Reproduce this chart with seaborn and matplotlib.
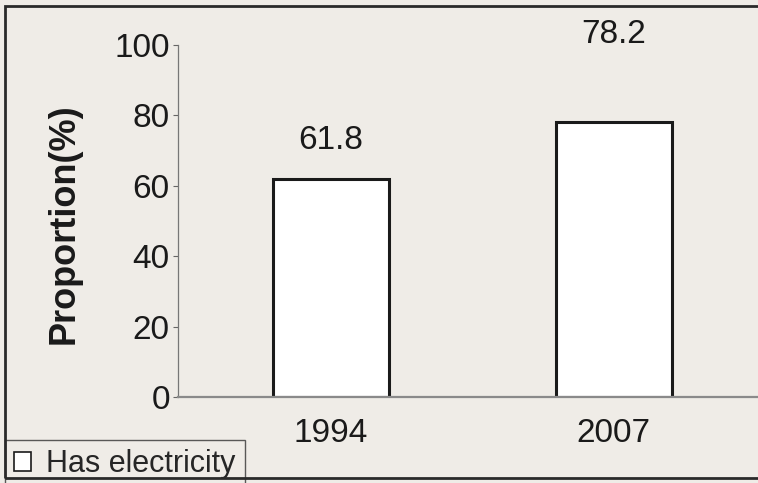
import matplotlib
matplotlib.use("Agg")
import matplotlib.pyplot as plt
import seaborn as sns
import pandas as pd
from matplotlib.patches import Rectangle

years = ["1994", "2007"]
has_electricity = [61.8, 78.2]
y_ticks = [0, 20, 40, 60, 80, 100]
legend_label = "Has electricity"

paper = "#efece7"
ink = "#1a1a1a"
sns.set_theme(style="white")
plt.rcParams["font.family"] = ["Liberation Sans", "DejaVu Sans"]

df = pd.DataFrame({"Year": years, "Proportion": has_electricity})

fig = plt.figure(figsize=(7.58, 4.83), dpi=100, facecolor=paper)
ax = fig.add_axes([0.235, 0.178, 0.765, 0.729])
ax.set_facecolor(paper)

sns.barplot(data=df, x="Year", y="Proportion", ax=ax, width=0.41,
            color="white", edgecolor=ink, linewidth=2.2,
            label=legend_label)

# value labels above each bar (offsets in pixels)
label_offsets = [30, 79]
for patch, val, off in zip(ax.patches, has_electricity, label_offsets):
    ax.annotate(f"{val}", (patch.get_x() + patch.get_width() / 2, val),
                xytext=(0, off), textcoords="offset pixels",
                ha="center", va="baseline", fontsize=24, color=ink)

ax.set_ylim(0, 100)
ax.set_xlim(-0.54, 1.51)
ax.set_yticks(y_ticks)
ax.set_yticklabels([str(t) for t in y_ticks], fontsize=24, color=ink)
ax.tick_params(axis="y", which="both", left=True, length=3.5, width=0.8,
               color="#666666", pad=2.5)
ax.tick_params(axis="x", bottom=False, labelsize=24, labelcolor=ink, pad=9)
ax.set_xlabel("")
ax.set_ylabel("Proportion(%)", fontsize=26, fontweight="bold", color=ink)
ax.yaxis.set_label_coords(-0.167, 0.493)

for side in ["top", "right"]:
    ax.spines[side].set_visible(False)
ax.spines["left"].set_color("#777777")
ax.spines["left"].set_linewidth(0.9)
ax.spines["bottom"].set_color("#8a8a8a")
ax.spines["bottom"].set_linewidth(1.6)

leg = ax.legend(loc="upper left", bbox_to_anchor=(5 / 758, 1 - 440 / 483),
                bbox_transform=fig.transFigure, frameon=True, fontsize=22,
                handlelength=0.55, handleheight=0.55, handletextpad=0.5,
                borderpad=0.3, borderaxespad=0, fancybox=False)
leg.get_frame().set_edgecolor("#333333")
leg.get_frame().set_facecolor(paper)
leg.get_frame().set_linewidth(1.0)
for h in leg.legend_handles:
    h.set_linewidth(1.2)

# outer frame around the chart area
fig.patches.append(Rectangle((0.007, 0.01), 1.2, 0.978, transform=fig.transFigure,
                             fill=False, edgecolor="#2a2a2a", linewidth=2.0))

fig.savefig("out.png", dpi=100, facecolor=paper)
